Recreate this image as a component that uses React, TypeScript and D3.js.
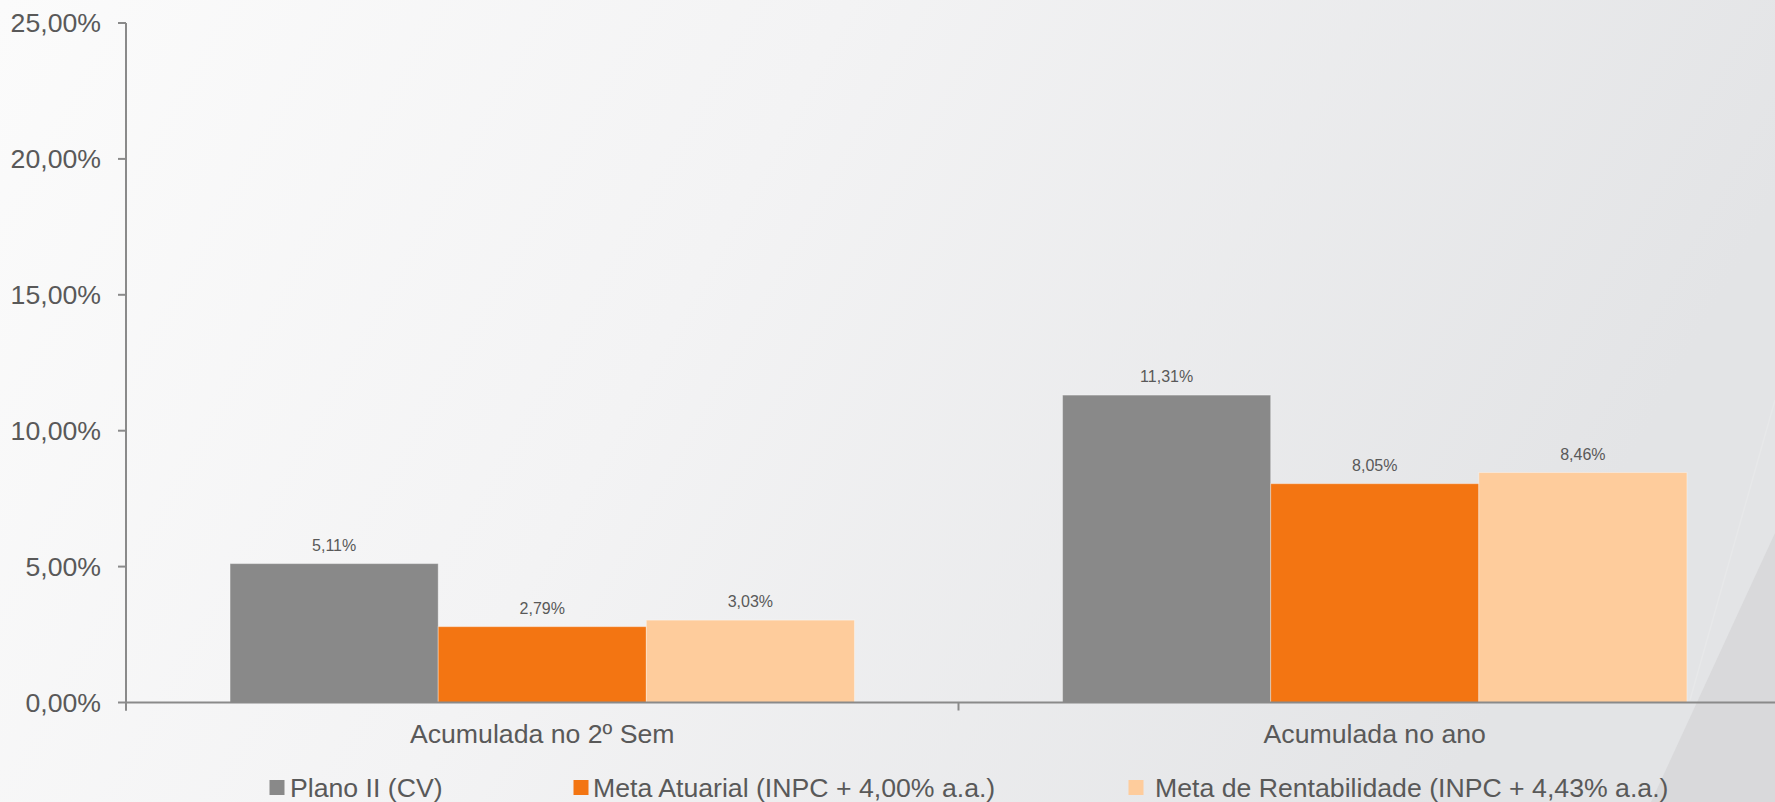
import React from "react";
import * as d3 from "d3";

const categories = ["Acumulada no 2º Sem", "Acumulada no ano"];
const seriesNames = [
  "Plano II (CV)",
  "Meta Atuarial (INPC + 4,00% a.a.)",
  "Meta de Rentabilidade (INPC + 4,43% a.a.)",
];
const planoII = [5.11, 11.31];
const metaAtuarial = [2.79, 8.05];
const metaRentabilidade = [3.03, 8.46];
const yTicks = [0, 5, 10, 15, 20, 25];
const seriesColors = ["#898989", "#f37512", "#fecc9c"];

const W = 1775;
const H = 802;
const FONT = "'Liberation Sans', Arial, sans-serif";
const TEXT = "#595959";
const AXIS = "#8a8a8a";

const fmt = (v: number) => v.toFixed(2).replace(".", ",") + "%";

export default function App() {
  const seriesValues = [planoII, metaAtuarial, metaRentabilidade];
  const y = d3.scaleLinear().domain([0, 25]).range([702.5, 23]);
  const x0 = d3.scaleBand<string>().domain(categories).range([126, 1791]).padding(0);
  const x1 = d3
    .scaleBand<string>()
    .domain(seriesNames)
    .range([0, x0.bandwidth()])
    .paddingInner(0)
    .paddingOuter(0.5);

  const legendSquareX = [269.5, 573.5, 1128.5];
  const legendTextX = [290, 593, 1155];

  return (
    <svg
      width={W}
      height={H}
      style={{ position: "fixed", left: 0, top: 0, display: "block" }}
      fontFamily={FONT}
    >
      <defs>
        <linearGradient id="bg" x1="0" y1="0" x2="1" y2="0.25">
          <stop offset="0" stopColor="#fbfbfb" />
          <stop offset="0.45" stopColor="#f3f3f4" />
          <stop offset="1" stopColor="#e3e4e6" />
        </linearGradient>
      </defs>
      <rect x={0} y={0} width={W} height={H} fill="url(#bg)" />
      <polygon points={`${W},533 ${W},${H} 1651,${H}`} fill="#d9d9db" />
      <line x1={1775} y1={400} x2={1690} y2={700} stroke="#f0f0f1" strokeWidth={1.5} opacity={0.35} />

      {/* bars */}
      {seriesValues.map((vals, si) =>
        categories.map((c, ci) => {
          const bx = (x0(c) as number) + (x1(seriesNames[si]) as number);
          const by = y(vals[ci]);
          return (
            <g key={`${si}-${ci}`}>
              <rect
                x={bx}
                y={by}
                width={x1.bandwidth()}
                height={y(0) - by}
                fill={seriesColors[si]}
                stroke="rgba(255,255,255,0.35)"
                strokeWidth={1}
              />
              <text
                x={bx + x1.bandwidth() / 2}
                y={by - 13}
                textAnchor="middle"
                fontSize={16}
                fill={TEXT}
              >
                {fmt(vals[ci])}
              </text>
            </g>
          );
        })
      )}

      {/* y axis */}
      <line x1={126} y1={y(25)} x2={126} y2={710.5} stroke={AXIS} strokeWidth={2} />
      {yTicks.map((t) => (
        <g key={t}>
          <line x1={118} y1={y(t)} x2={126} y2={y(t)} stroke={AXIS} strokeWidth={2} />
          <text
            x={101}
            y={y(t) + 9.3}
            textAnchor="end"
            fontSize={26.67}
            fill={TEXT}
          >
            {t.toFixed(2).replace(".", ",") + "%"}
          </text>
        </g>
      ))}

      {/* x axis */}
      <line x1={126} y1={y(0)} x2={1791} y2={y(0)} stroke={AXIS} strokeWidth={2} />
      {[...categories.map((c) => x0(c) as number), x0.range()[1]].map((tx, i) => (
        <line key={i} x1={tx} y1={y(0)} x2={tx} y2={710.5} stroke={AXIS} strokeWidth={2} />
      ))}
      {categories.map((c) => (
        <text
          key={c}
          x={(x0(c) as number) + x0.bandwidth() / 2}
          y={743}
          textAnchor="middle"
          fontSize={26.67}
          fill={TEXT}
        >
          {c}
        </text>
      ))}

      {/* legend */}
      {seriesNames.map((s, i) => (
        <g key={s}>
          <rect x={legendSquareX[i]} y={780} width={15} height={15} fill={seriesColors[i]} />
          <text x={legendTextX[i]} y={797} fontSize={26.67} fill={TEXT}>
            {s}
          </text>
        </g>
      ))}
    </svg>
  );
}
